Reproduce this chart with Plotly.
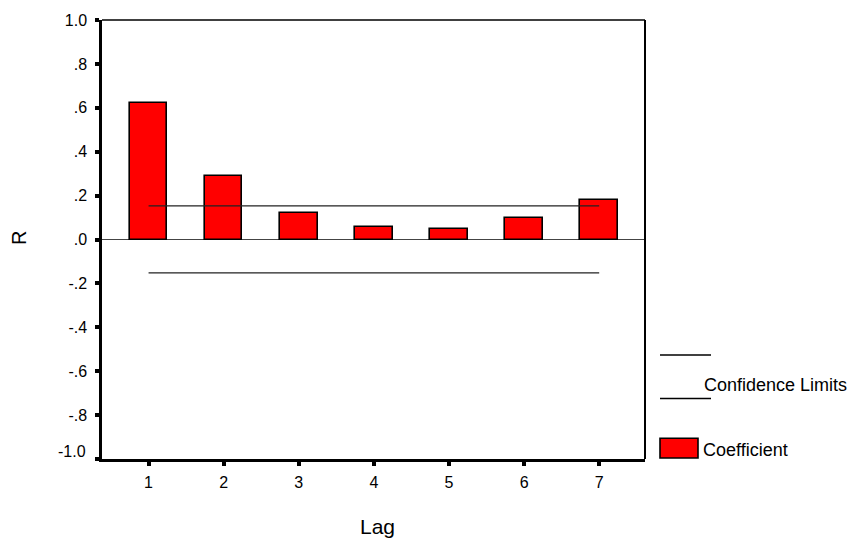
import plotly.graph_objects as go

# ---- data ----
lags = [1, 2, 3, 4, 5, 6, 7]
coefficients = [0.624, 0.291, 0.119, 0.057, 0.046, 0.097, 0.180]
upper_limit = [0.153, 0.153, 0.153, 0.153, 0.153, 0.153, 0.153]
lower_limit = [-0.152, -0.152, -0.152, -0.152, -0.152, -0.152, -0.152]
y_tick_vals = [-1.0, -0.8, -0.6, -0.4, -0.2, 0.0, 0.2, 0.4, 0.6, 0.8, 1.0]
y_tick_text = ["-1.0", "-.8", "-.6", "-.4", "-.2", ".0", ".2", ".4", ".6", ".8", "1.0"]
x_tick_text = ["1", "2", "3", "4", "5", "6", "7"]

FONT = "Liberation Sans, Arial, sans-serif"
W, H = 866, 538
ML, MR, MT, MB = 102, 221, 16, 79
PW, PH = W - ML - MR, H - MT - MB


def px(x):
    return (x - ML) / PW


def py(y):
    return (H - MB - y) / PH


fig = go.Figure()

fig.add_trace(go.Bar(
    x=lags, y=coefficients, width=0.5,
    marker=dict(color="#ff0000", line=dict(color="black", width=1.6)),
    showlegend=False, hoverinfo="skip",
))
for lim in (upper_limit, lower_limit):
    fig.add_trace(go.Scatter(
        x=lags, y=lim, mode="lines",
        line=dict(color="#222222", width=1.3),
        showlegend=False, hoverinfo="skip",
    ))

# bottom tick label of y axis sits slightly higher in the reference
shown_y_text = [("" if v == y_tick_vals[0] else t) for v, t in zip(y_tick_vals, y_tick_text)]

fig.update_layout(
    width=W, height=H,
    margin=dict(l=ML, r=MR, t=MT, b=MB),
    paper_bgcolor="white", plot_bgcolor="white",
    font=dict(family=FONT, color="black", size=16),
    bargap=0,
)
fig.update_xaxes(
    range=[0.38, 7.61], tickvals=lags, ticktext=x_tick_text,
    showline=True, linecolor="black", linewidth=2.5,
    ticks="outside", ticklen=4, tickwidth=4, tickcolor="black",
    ticklabelstandoff=3,
    showgrid=False, zeroline=False,
    tickfont=dict(size=16),
)
fig.update_yaxes(
    range=[-1, 1], tickvals=y_tick_vals, ticktext=shown_y_text,
    showline=True, linecolor="black", linewidth=2.5,
    ticks="outside", ticklen=4, tickwidth=4, tickcolor="black",
    ticklabelstandoff=5,
    showgrid=False, zeroline=True, zerolinecolor="#444444", zerolinewidth=1.2,
    tickfont=dict(size=16),
)

shapes = [
    # top and right frame
    dict(type="line", xref="paper", yref="paper", x0=0, x1=1, y0=1, y1=1,
         line=dict(color="black", width=1.5)),
    dict(type="line", xref="paper", yref="paper", x0=1, x1=1, y0=0, y1=1,
         line=dict(color="black", width=2)),
    # legend lines
    dict(type="line", xref="paper", yref="paper", x0=px(660), x1=px(711), y0=py(354), y1=py(354),
         line=dict(color="black", width=1.6)),
    dict(type="line", xref="paper", yref="paper", x0=px(660), x1=px(711), y0=py(398), y1=py(398),
         line=dict(color="black", width=1.6)),
    # legend swatch
    dict(type="rect", xref="paper", yref="paper", x0=px(660), x1=px(698), y0=py(458), y1=py(438),
         fillcolor="#ff0000", line=dict(color="black", width=1.6)),
]
fig.update_layout(shapes=shapes)

annotations = [
    dict(text=y_tick_text[0], x=px(88), y=py(451), xanchor="right", yanchor="middle",
         font=dict(size=16)),
    dict(text="Confidence Limits", x=px(702), y=py(384), xanchor="left", yanchor="middle",
         font=dict(size=18)),
    dict(text="Coefficient", x=px(701), y=py(450), xanchor="left", yanchor="middle",
         font=dict(size=18)),
    dict(text="Lag", x=px(377), y=py(527), xanchor="center", yanchor="middle",
         font=dict(size=21)),
    dict(text="R", x=px(19), y=py(236), xanchor="center", yanchor="middle",
         textangle=-90, font=dict(size=20)),
]
for a in annotations:
    a.update(xref="paper", yref="paper", showarrow=False)
fig.update_layout(annotations=annotations)

fig.write_html("out.html")
